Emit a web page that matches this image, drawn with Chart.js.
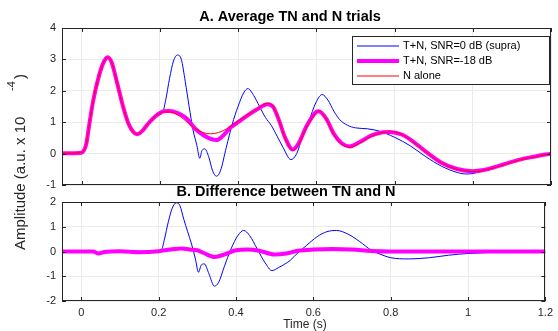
<!DOCTYPE html>
<html>
<head>
<meta charset="utf-8">
<script src="https://cdn.jsdelivr.net/npm/chart.js@4/dist/chart.umd.min.js"></script>
<style>
  body { margin: 0; background: #fff; }
  #wrap { position: relative; width: 558px; height: 331px; }
  canvas { position: absolute; left: 0; top: 0; }
</style>
</head>
<body>
<div id="wrap">
  <canvas id="topChart" width="558" height="331"></canvas>
  <canvas id="bottomChart" width="558" height="331"></canvas>
</div>
<script>
// tick labels
const xTicks = [0, 0.2, 0.4, 0.6, 0.8, 1, 1.2];
const yTicksTop = [-1, 0, 1, 2, 3, 4];
const yTicksBottom = [-2, -1, 0, 1, 2];

// A. average TN and N trials (amplitude x 1e-4)
const tNoise = [-0.05, 0, 0.005, 0.012, 0.02, 0.03, 0.045, 0.058, 0.067, 0.077, 0.09, 0.105, 0.12, 0.133, 0.143, 0.155, 0.17, 0.19, 0.21, 0.225, 0.25, 0.27, 0.29, 0.31, 0.33, 0.35, 0.37, 0.39, 0.42, 0.45, 0.475, 0.49, 0.505, 0.52, 0.54, 0.555, 0.575, 0.6, 0.608, 0.625, 0.645, 0.665, 0.685, 0.71, 0.74, 0.77, 0.79, 0.82, 0.85, 0.88, 0.92, 0.96, 1.0, 1.04, 1.08, 1.12, 1.16, 1.2];
const yNoise = [0.01, 0.03, 0.08, 0.3, 0.95, 1.7, 2.5, 2.95, 3.07, 2.9, 2.3, 1.55, 0.95, 0.68, 0.62, 0.72, 0.95, 1.2, 1.33, 1.33, 1.2, 1.0, 0.8, 0.67, 0.63, 0.67, 0.78, 0.95, 1.2, 1.42, 1.6, 1.5, 1.05, 0.5, 0.1, 0.3, 0.85, 1.3, 1.35, 1.1, 0.6, 0.3, 0.2, 0.33, 0.55, 0.67, 0.7, 0.6, 0.35, 0.05, -0.3, -0.5, -0.57, -0.5, -0.35, -0.2, -0.1, 0];

const tLow = [-0.05, 0, 0.005, 0.012, 0.02, 0.03, 0.045, 0.058, 0.067, 0.077, 0.09, 0.105, 0.12, 0.133, 0.143, 0.155, 0.17, 0.19, 0.21, 0.225, 0.25, 0.27, 0.29, 0.31, 0.33, 0.345, 0.36, 0.38, 0.4, 0.42, 0.45, 0.475, 0.49, 0.505, 0.52, 0.54, 0.555, 0.575, 0.6, 0.606, 0.625, 0.645, 0.665, 0.685, 0.71, 0.74, 0.77, 0.787, 0.82, 0.85, 0.88, 0.92, 0.96, 1.0, 1.04, 1.08, 1.12, 1.16, 1.2];
const yLow = [0.01, 0.03, 0.08, 0.3, 0.95, 1.7, 2.5, 2.95, 3.07, 2.9, 2.3, 1.55, 0.95, 0.68, 0.62, 0.72, 0.95, 1.2, 1.35, 1.36, 1.27, 1.1, 0.8, 0.6, 0.47, 0.43, 0.55, 0.82, 1.0, 1.18, 1.42, 1.57, 1.48, 1.05, 0.52, 0.13, 0.33, 0.87, 1.33, 1.35, 1.12, 0.63, 0.33, 0.23, 0.36, 0.57, 0.68, 0.69, 0.6, 0.36, 0.06, -0.29, -0.49, -0.56, -0.49, -0.34, -0.19, -0.09, 0];

const tSupra = [-0.05, 0, 0.005, 0.012, 0.02, 0.03, 0.045, 0.058, 0.067, 0.077, 0.09, 0.105, 0.12, 0.133, 0.143, 0.155, 0.17, 0.19, 0.207, 0.215, 0.225, 0.235, 0.245, 0.255, 0.265, 0.275, 0.285, 0.295, 0.302, 0.308, 0.315, 0.325, 0.335, 0.345, 0.355, 0.37, 0.385, 0.4, 0.415, 0.425, 0.44, 0.455, 0.47, 0.485, 0.5, 0.515, 0.535, 0.55, 0.565, 0.58, 0.6, 0.615, 0.63, 0.645, 0.66, 0.68, 0.7, 0.73, 0.76, 0.8, 0.84, 0.88, 0.92, 0.96, 0.985, 1.02, 1.06, 1.1, 1.15, 1.2];
const ySupra = [0.01, 0.03, 0.08, 0.3, 0.95, 1.7, 2.5, 2.95, 3.07, 2.9, 2.3, 1.55, 0.95, 0.68, 0.62, 0.72, 0.95, 1.2, 1.3, 1.7, 2.4, 2.95, 3.14, 3.0, 2.3, 1.5, 0.75, 0.25, -0.15, 0.1, 0.15, -0.1, -0.55, -0.72, -0.55, 0.2, 0.93, 1.5, 1.95, 2.07, 1.85, 1.5, 1.15, 0.9, 0.55, 0.2, -0.19, 0.0, 0.55, 1.0, 1.65, 1.88, 1.7, 1.35, 1.08, 0.9, 0.82, 0.79, 0.72, 0.52, 0.25, -0.1, -0.4, -0.6, -0.65, -0.58, -0.42, -0.27, -0.12, 0];

// B. difference between TN and N
const tDiffSupra = [-0.05, 0.03, 0.045, 0.06, 0.1, 0.2, 0.207, 0.215, 0.225, 0.235, 0.246, 0.255, 0.265, 0.275, 0.285, 0.295, 0.303, 0.31, 0.318, 0.33, 0.344, 0.355, 0.37, 0.387, 0.405, 0.42, 0.435, 0.455, 0.475, 0.493, 0.51, 0.54, 0.56, 0.582, 0.61, 0.635, 0.66, 0.69, 0.72, 0.75, 0.77, 0.8, 0.847, 0.9, 0.95, 1.0, 1.1, 1.2];
const yDiffSupra = [0, 0, -0.09, -0.02, 0, 0.02, 0.05, 0.5, 1.2, 1.75, 1.97, 1.85, 1.3, 0.8, 0.3, -0.3, -0.84, -0.55, -0.5, -0.9, -1.4, -1.25, -0.6, 0.1, 0.65, 0.85, 0.65, 0.1, -0.45, -0.77, -0.65, -0.36, -0.05, 0.24, 0.6, 0.8, 0.85, 0.7, 0.4, 0.05, -0.09, -0.25, -0.3, -0.25, -0.15, -0.08, -0.02, 0];

const tDiffLow = [-0.05, 0.03, 0.045, 0.06, 0.1, 0.15, 0.2, 0.23, 0.26, 0.28, 0.3, 0.315, 0.345, 0.37, 0.4, 0.43, 0.46, 0.5, 0.53, 0.56, 0.6, 0.65, 0.7, 0.75, 0.8, 1.2];
const yDiffLow = [0, 0, -0.08, -0.02, 0.01, -0.03, 0.01, 0.08, 0.12, 0.08, 0.05, -0.05, -0.22, -0.12, 0.05, 0.08, 0.03, -0.12, -0.08, 0.03, 0.08, 0.1, 0.08, 0.02, 0, 0];

const BLUE = '#0000ff', MAGENTA = '#ff00ff', RED = '#ff0000';
const AXIS = '#262626', GRID = '#ebebeb';
const FONT = '"Liberation Sans", Arial, Helvetica, sans-serif';

const pts = (t, y) => t.map((v, i) => ({ x: v, y: y[i] }));

const line = (label, t, y, color, width, order) => ({
    label, data: pts(t, y), borderColor: color, backgroundColor: color,
    borderWidth: width, pointRadius: 0, cubicInterpolationMode: 'monotone', order
});

// inside ticks + box, MATLAB style
const frame = {
    id: 'frame',
    afterDatasetsDraw(chart) {
        const { ctx, chartArea: a, scales } = chart;
        ctx.save();
        ctx.strokeStyle = AXIS;
        ctx.lineWidth = 1;
        ctx.beginPath();
        const tl = 4;
        scales.x.ticks.forEach(t => {
            const px = Math.round(scales.x.getPixelForValue(t.value)) + 0.5;
            ctx.moveTo(px, a.bottom); ctx.lineTo(px, a.bottom - tl);
            ctx.moveTo(px, a.top); ctx.lineTo(px, a.top + tl);
        });
        scales.y.ticks.forEach(t => {
            const py = Math.round(scales.y.getPixelForValue(t.value)) + 0.5;
            ctx.moveTo(a.left, py); ctx.lineTo(a.left + tl, py);
            ctx.moveTo(a.right, py); ctx.lineTo(a.right - tl, py);
        });
        ctx.stroke();
        ctx.strokeRect(Math.round(a.left) + 0.5, Math.round(a.top) + 0.5,
            Math.round(a.width) - 1, Math.round(a.height) - 1);
        ctx.restore();
    }
};

const topDecor = {
    id: 'topDecor',
    afterDraw(chart) {
        const { ctx } = chart;
        ctx.save();
        ctx.fillStyle = '#000';
        ctx.font = 'bold 14.5px ' + FONT;
        ctx.textAlign = 'center';
        ctx.textBaseline = 'alphabetic';
        ctx.fillText('A. Average TN and N trials', 290, 21);

        // y label with superscript
        ctx.fillStyle = AXIS;
        ctx.translate(25, 250);
        ctx.rotate(-Math.PI / 2);
        ctx.textAlign = 'left';
        ctx.font = '15px ' + FONT;
        ctx.fillText('Amplitude (a.u. x 10', 0, 0);
        ctx.font = '11px ' + FONT;
        ctx.fillText('-4', 159, -10);
        ctx.font = '15px ' + FONT;
        ctx.fillText(')', 171, 0);
        ctx.restore();

        // legend
        const ds = chart.data.datasets;
        const lx = 352, ly = 36, lw = 197, lh = 48;
        ctx.save();
        ctx.fillStyle = '#fff';
        ctx.fillRect(lx, ly, lw, lh);
        ctx.strokeStyle = AXIS;
        ctx.lineWidth = 1;
        ctx.strokeRect(lx + 0.5, ly + 0.5, lw, lh);
        ctx.font = '11px ' + FONT;
        ctx.textBaseline = 'middle';
        ctx.fillStyle = '#000';
        ds.forEach((d, i) => {
            const yy = 46 + i * 15;
            ctx.strokeStyle = d.borderColor;
            ctx.lineWidth = d.borderWidth;
            ctx.beginPath();
            ctx.moveTo(357, yy); ctx.lineTo(399, yy);
            ctx.stroke();
            ctx.fillText(d.label, 403, yy);
        });
        ctx.restore();
    }
};

const bottomDecor = {
    id: 'bottomDecor',
    afterDraw(chart) {
        const { ctx } = chart;
        ctx.save();
        ctx.fillStyle = '#000';
        ctx.font = 'bold 14.5px ' + FONT;
        ctx.textAlign = 'center';
        ctx.fillText('B. Difference between TN and N', 286, 196);
        ctx.fillStyle = AXIS;
        ctx.font = '12px ' + FONT;
        ctx.textBaseline = 'middle';
        ctx.fillText('Time (s)', 305, 325);
        ctx.restore();
    }
};

function makeOptions(yTicks, pad, showX) {
    return {
        responsive: false,
        animation: false,
        devicePixelRatio: 1,
        layout: { padding: pad },
        plugins: { legend: { display: false }, tooltip: { enabled: false } },
        scales: {
            x: {
                type: 'linear', min: -0.05, max: 1.2,
                border: { display: false },
                grid: { color: GRID, drawTicks: false },
                afterBuildTicks: s => { s.ticks = xTicks.map(v => ({ value: v })); },
                afterFit: s => { s.height = showX ? 30 : 0; },
                ticks: {
                    display: showX, padding: 5, color: AXIS, maxRotation: 0,
                    font: { family: FONT, size: 11 },
                    callback: v => String(Math.round(v * 10) / 10)
                }
            },
            y: {
                min: yTicks[0], max: yTicks[yTicks.length - 1],
                border: { display: false },
                grid: { color: GRID, drawTicks: false },
                afterBuildTicks: s => { s.ticks = yTicks.map(v => ({ value: v })); },
                afterFit: s => { s.width = 62; },
                ticks: { padding: 6, color: AXIS, font: { family: FONT, size: 11 } }
            }
        }
    };
}

new Chart(document.getElementById('topChart'), {
    type: 'line',
    data: {
        datasets: [
            line('T+N, SNR=0 dB (supra)', tSupra, ySupra, BLUE, 1, 3),
            line('T+N, SNR=-18 dB', tLow, yLow, MAGENTA, 4, 2),
            line('N alone', tNoise, yNoise, RED, 1, 1)
        ]
    },
    options: makeOptions(yTicksTop, { left: 0, top: 28, right: 7, bottom: 146 }, false),
    plugins: [frame, topDecor]
});

new Chart(document.getElementById('bottomChart'), {
    type: 'line',
    data: {
        datasets: [
            line('T+N, SNR=0 dB (supra)', tDiffSupra, yDiffSupra, BLUE, 1, 2),
            line('T+N, SNR=-18 dB', tDiffLow, yDiffLow, MAGENTA, 4, 1)
        ]
    },
    options: makeOptions(yTicksBottom, { left: 0, top: 202, right: 7, bottom: 0 }, true),
    plugins: [frame, bottomDecor]
});
</script>
</body>
</html>
